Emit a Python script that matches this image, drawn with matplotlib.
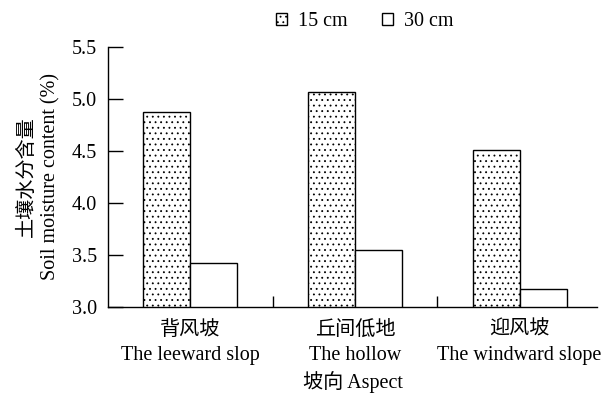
import numpy as np
import matplotlib
matplotlib.use("Agg")
import matplotlib.pyplot as plt

plt.rcParams["font.family"] = ["Liberation Serif", "Noto Sans CJK SC"]
plt.rcParams["hatch.linewidth"] = 0.6

# ─── Data ─────────────────────────────────────────────────────────────────────
aspects_cn = ["背风坡", "丘间低地", "迎风坡"]
aspects_en = ["The leeward slop", "The hollow", "The windward slope"]
depths = ["15 cm", "30 cm"]
moist_15 = [4.87, 5.07, 4.51]
moist_30 = [3.42, 3.55, 3.17]

FS = 14.5

# ─── Figure ───────────────────────────────────────────────────────────────────
fig = plt.figure(figsize=(6.03, 3.94), dpi=100)
ax = fig.add_axes([0.179, 0.221, 0.811, 0.660])

x = np.arange(len(aspects_cn))
w = 0.285
b1 = ax.bar(x - w / 2, moist_15, w, color="white", edgecolor="black",
            hatch="...", linewidth=1.0, label=depths[0])
b2 = ax.bar(x + w / 2, moist_30, w, color="white", edgecolor="black",
            linewidth=1.0, label=depths[1])

ax.set_ylim(3.0, 5.5)
ax.set_xlim(-0.5, 2.47)
yt = np.arange(3.0, 5.51, 0.5)
ax.set_yticks(yt)
ax.set_yticklabels([f"{v:.1f}" for v in yt])
ax.set_xticks([0.5, 1.5])
ax.set_xticklabels([])
ax.set_xticks(x, minor=True)
ax.set_xticklabels([f"{c}\n{e}" for c, e in zip(aspects_cn, aspects_en)],
                   minor=True, linespacing=1.45)
ax.tick_params(axis="x", which="minor", length=0, pad=10, labelsize=FS)
ax.tick_params(axis="x", which="major", direction="in", length=8, width=1)
ax.tick_params(axis="y", direction="in", length=11, width=1, labelsize=FS, pad=8)

for s in ("top", "right"):
    ax.spines[s].set_visible(False)
for s in ("left", "bottom"):
    ax.spines[s].set_linewidth(1.0)

ax.set_xlabel("坡向 Aspect", fontsize=FS, labelpad=4)
ax.set_ylabel("土壤水分含量\nSoil moisture content (%)", fontsize=FS,
              linespacing=1.3, labelpad=8)

fig.legend(handles=[b1, b2], labels=depths, loc="upper center",
           bbox_to_anchor=(0.605, 1.015), ncol=2, frameon=False, fontsize=FS,
           handlelength=0.55, handleheight=0.55, handletextpad=0.55,
           columnspacing=1.7)

fig.savefig("out.png", dpi=100)
